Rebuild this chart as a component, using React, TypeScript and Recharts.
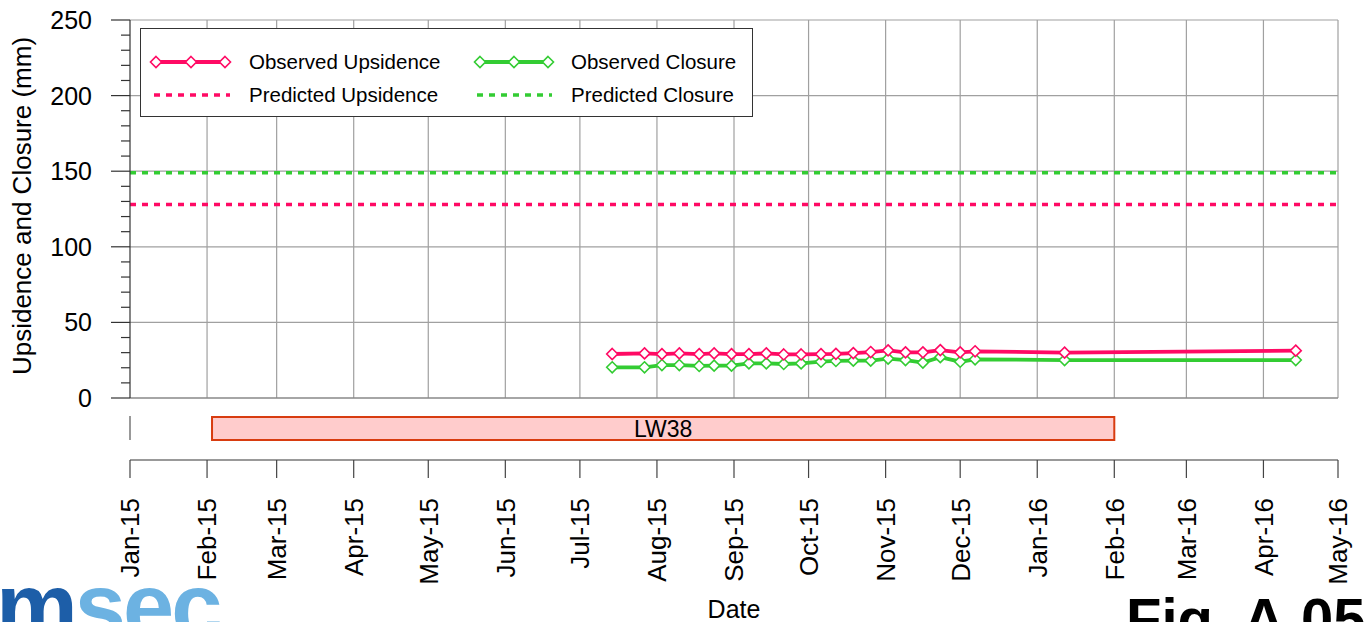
import React from "react";
import { ComposedChart, Line, Bar, LabelList, XAxis, YAxis, ReferenceLine } from "recharts";

// observation dates and readings (mm)
const obsDates = [
  "2015-07-14", "2015-07-27", "2015-08-03", "2015-08-10", "2015-08-18", "2015-08-24",
  "2015-08-31", "2015-09-07", "2015-09-14", "2015-09-21", "2015-09-28", "2015-10-06",
  "2015-10-12", "2015-10-19", "2015-10-26", "2015-11-02", "2015-11-09", "2015-11-16",
  "2015-11-23", "2015-12-01", "2015-12-07", "2016-01-12", "2016-04-14",
];
const obsUpsidence = [
  29.1, 29.5, 29, 29.5, 29, 29.5, 29, 29, 29.5, 28.8, 28.8, 29,
  29.2, 29.7, 30.4, 31.5, 30.2, 30.2, 31.7, 30.2, 30.9, 30, 31.3,
];
const obsClosure = [
  20.3, 20.3, 21.8, 21.8, 21.2, 21.4, 21.4, 22.9, 22.9, 22.5, 22.9, 24,
  24.5, 24.7, 24.7, 26, 25.1, 23.4, 27, 24, 25.6, 25.1, 25.1,
];
const predictedUpsidence = 128;
const predictedClosure = 149;

const monthTicks = [
  "2015-01-01", "2015-02-01", "2015-03-01", "2015-04-01", "2015-05-01", "2015-06-01",
  "2015-07-01", "2015-08-01", "2015-09-01", "2015-10-01", "2015-11-01", "2015-12-01",
  "2016-01-01", "2016-02-01", "2016-03-01", "2016-04-01", "2016-05-01",
];
const monthNames = ["Jan", "Feb", "Mar", "Apr", "May", "Jun", "Jul", "Aug", "Sep", "Oct", "Nov", "Dec"];
const yTicks = [0, 10, 20, 30, 40, 50, 60, 70, 80, 90, 100, 110, 120, 130, 140, 150, 160, 170, 180, 190, 200, 210, 220, 230, 240, 250];
const yGrid = [50, 100, 150, 200, 250];

const panelNames = ["LW38"];
const panelStarts = ["2015-02-03"];
const panelEnds = ["2016-02-01"];

const PINK = "#ff0a64";
const GREEN = "#33cc33";
const GRID = "#a0a0a0";
const FONT = "'Liberation Sans', Arial, sans-serif";

const toTime = (s: string) => Date.parse(s + "T00:00:00Z");
const tickTimes = monthTicks.map(toTime);
const xDomain = [tickTimes[0], tickTimes[tickTimes.length - 1]];

const data = obsDates.map((d, i) => ({ t: toTime(d), ups: obsUpsidence[i], clo: obsClosure[i] }));
const panels = panelNames.map((n, i) => ({ name: n, range: [toTime(panelStarts[i]), toTime(panelEnds[i])] }));

const fmtMonth = (t: number) => {
  const d = new Date(t);
  return monthNames[d.getUTCMonth()] + "-" + String(d.getUTCFullYear()).slice(2);
};

const diamond = (color: string) => (props: any) => {
  const { cx, cy, index } = props;
  if (cx == null || cy == null) return <g key={index} />;
  const r = 5.5;
  return (
    <path
      key={index}
      d={`M${cx},${cy - r}L${cx + r},${cy}L${cx},${cy + r}L${cx - r},${cy}Z`}
      fill="#fff"
      stroke={color}
      strokeWidth={1.6}
    />
  );
};

const YTick = (props: any) => {
  const { x, y, payload } = props;
  const major = payload.value % 50 === 0;
  return (
    <g>
      <line x1={x - (major ? 19 : 9)} x2={x} y1={y} y2={y} stroke="#333" strokeWidth={1.2} />
      {major && (
        <text x={x - 38} y={y} dy="0.36em" textAnchor="end" fontSize={25} fontFamily={FONT} fill="#000">
          {payload.value}
        </text>
      )}
    </g>
  );
};

const XTick = (props: any) => {
  const { x, y, payload } = props;
  return (
    <text
      x={x}
      y={y}
      dy="0.36em"
      transform={`rotate(-90, ${x}, ${y})`}
      textAnchor="end"
      fontSize={26}
      fontFamily={FONT}
      fill="#000"
    >
      {fmtMonth(payload.value)}
    </text>
  );
};

function LegendBox() {
  const row1 = 33;
  const row2 = 66;
  const d = (cx: number, cy: number, c: string) => (
    <path d={`M${cx},${cy - 5.5}L${cx + 5.5},${cy}L${cx},${cy + 5.5}L${cx - 5.5},${cy}Z`} fill="#fff" stroke={c} strokeWidth={1.6} />
  );
  return (
    <svg
      width={613}
      height={89}
      style={{ position: "absolute", left: 140, top: 28, background: "#fff", border: "1px solid #333", boxSizing: "border-box" }}
    >
      <line x1={15} x2={85} y1={row1} y2={row1} stroke={PINK} strokeWidth={3.8} />
      {d(15, row1, PINK)}
      {d(50, row1, PINK)}
      {d(84, row1, PINK)}
      <text x={108} y={row1} dy="0.36em" fontSize={20.5} fontFamily={FONT}>Observed Upsidence</text>
      <line x1={339} x2={408} y1={row1} y2={row1} stroke={GREEN} strokeWidth={3.8} />
      {d(339, row1, GREEN)}
      {d(373, row1, GREEN)}
      {d(407, row1, GREEN)}
      <text x={430} y={row1} dy="0.36em" fontSize={20.5} fontFamily={FONT}>Observed Closure</text>
      <line x1={13} x2={89} y1={row2} y2={row2} stroke={PINK} strokeWidth={3.5} strokeDasharray="6 6" />
      <text x={108} y={row2} dy="0.36em" fontSize={20.5} fontFamily={FONT}>Predicted Upsidence</text>
      <line x1={336} x2={411} y1={row2} y2={row2} stroke={GREEN} strokeWidth={3.5} strokeDasharray="6 6" />
      <text x={430} y={row2} dy="0.36em" fontSize={20.5} fontFamily={FONT}>Predicted Closure</text>
    </svg>
  );
}

export default function App() {
  return (
    <div style={{ position: "absolute", left: 0, top: 0, width: 1366, height: 622, overflow: "hidden", background: "#fff", fontFamily: FONT }}>
      <div style={{ position: "absolute", left: 0, top: 0 }}>
        <ComposedChart width={1366} height={420} data={data} margin={{ top: 20, right: 28, bottom: 22, left: 0 }}>
          <XAxis dataKey="t" type="number" domain={xDomain} ticks={tickTimes} hide allowDataOverflow />
          <YAxis
            type="number"
            domain={[0, 250]}
            ticks={yTicks}
            interval={0}
            width={130}
            tickSize={0}
            tickMargin={0}
            tickLine={false}
            tick={<YTick />}
            axisLine={{ stroke: "#333", strokeWidth: 1.2 }}
          />
          {tickTimes.slice(1).map((t) => (
            <ReferenceLine key={"v" + t} x={t} stroke={GRID} strokeWidth={1.2} />
          ))}
          {yGrid.map((v) => (
            <ReferenceLine key={"h" + v} y={v} stroke={GRID} strokeWidth={1.2} />
          ))}
          <ReferenceLine y={0} stroke="#888" strokeWidth={1.5} />
          <ReferenceLine y={predictedClosure} stroke={GREEN} strokeWidth={3.5} strokeDasharray="6 6" />
          <ReferenceLine y={predictedUpsidence} stroke={PINK} strokeWidth={3.5} strokeDasharray="6 6" />
          <Line dataKey="clo" stroke={GREEN} strokeWidth={3.8} dot={diamond(GREEN)} isAnimationActive={false} type="linear" />
          <Line dataKey="ups" stroke={PINK} strokeWidth={3.8} dot={diamond(PINK)} isAnimationActive={false} type="linear" />
        </ComposedChart>
      </div>
      <svg width={60} height={420} style={{ position: "absolute", left: 0, top: 0 }}>
        <text
          x={22}
          y={206}
          transform="rotate(-90, 22, 206)"
          textAnchor="middle"
          dy="0.36em"
          fontSize={26}
          fontFamily={FONT}
          fill="#000"
        >
          Upsidence and Closure (mm)
        </text>
      </svg>
      <LegendBox />
      {/* mining panel band */}
      <div style={{ position: "absolute", left: 0, top: 406 }}>
        <ComposedChart
          width={1366}
          height={44}
          data={panels}
          layout="vertical"
          barCategoryGap={0}
          margin={{ top: 10, right: 28, bottom: 10, left: 130 }}
        >
          <XAxis type="number" domain={xDomain} hide allowDataOverflow />
          <YAxis type="category" dataKey="name" hide />
          <ReferenceLine x={xDomain[0]} stroke="#777" strokeWidth={1.5} />
          <Bar dataKey="range" barSize={23} fill="#ffcccc" stroke="#d83c10" strokeWidth={2} isAnimationActive={false}>
            <LabelList dataKey="name" position="center" fontSize={23} fill="#000" fontFamily={FONT} />
          </Bar>
        </ComposedChart>
      </div>
      {/* date axis */}
      <div style={{ position: "absolute", left: 0, top: 440 }}>
        <ComposedChart width={1366} height={182} data={data} margin={{ top: 20, right: 28, bottom: 0, left: 130 }}>
          <XAxis
            dataKey="t"
            type="number"
            domain={xDomain}
            ticks={tickTimes}
            interval={0}
            height={162}
            tickSize={18}
            tickMargin={20}
            tick={<XTick />}
            axisLine={{ stroke: "#777", strokeWidth: 1.5 }}
            tickLine={{ stroke: "#444", strokeWidth: 1.2 }}
            label={{ value: "Date", position: "insideBottom", offset: 4, fontSize: 25, fill: "#000", fontFamily: FONT }}
          />
          <YAxis type="number" domain={[0, 1]} hide />
        </ComposedChart>
      </div>
      <div style={{ position: "absolute", left: -4, top: 560, fontSize: 92, fontWeight: 900, fontFamily: FONT, letterSpacing: -3, lineHeight: "92px" }}>
        <span style={{ color: "#1d5ea8" }}>m</span>
        <span style={{ color: "#6cb2e2" }}>sec</span>
      </div>
      <div style={{ position: "absolute", left: 1126, top: 590, fontSize: 58, fontWeight: 700, fontFamily: FONT, lineHeight: "58px", whiteSpace: "nowrap" }}>
        Fig. A.05
      </div>
    </div>
  );
}
